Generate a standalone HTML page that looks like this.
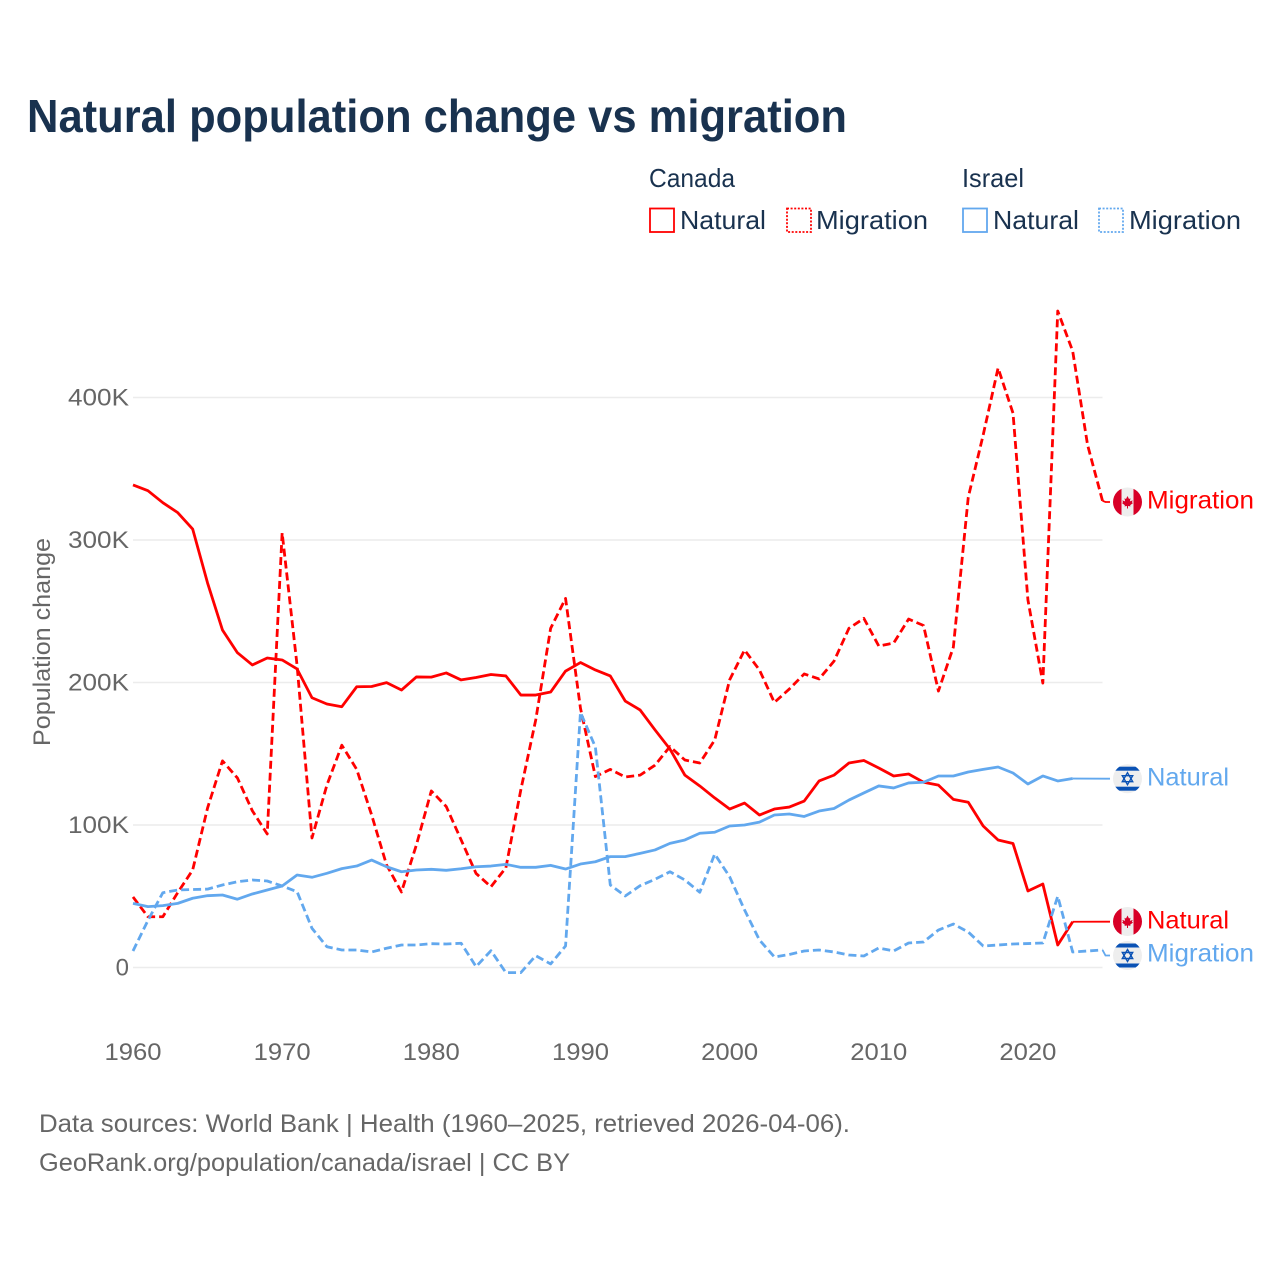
<!DOCTYPE html>
<html lang="en">
<head>
<meta charset="utf-8">
<title>Natural population change vs migration</title>
<style>
html,body{margin:0;padding:0;background:#fff;}
svg{display:block;}
text{font-family:"Liberation Sans",sans-serif;}
</style>
</head>
<body>
<svg id="chart" xmlns="http://www.w3.org/2000/svg" width="1280" height="1280" viewBox="0 0 1280 1280">
  <defs>
    <clipPath id="flag-clip-a"><circle cx="0" cy="0" r="14.5"/></clipPath>
    <symbol id="flag-ca" viewBox="-15 -15 30 30" overflow="visible">
      <g clip-path="url(#flag-clip-a)">
        <rect x="-15" y="-15" width="30" height="30" fill="#eeeeee"/>
        <rect x="-15" y="-15" width="9" height="30" fill="#d80027"/>
        <rect x="6" y="-15" width="9" height="30" fill="#d80027"/>
        <polygon points="0,-6 1.5,-3 3,-3.8 2.4,-0.6 5.2,-1.6 4.4,0.4 5.6,1 2.6,3.2 3,4.4 0.5,4 0.5,6.5 -0.5,6.5 -0.5,4 -3,4.4 -2.6,3.2 -5.6,1 -4.4,0.4 -5.2,-1.6 -2.4,-0.6 -3,-3.8 -1.5,-3" fill="#d80027"/>
      </g>
    </symbol>
    <symbol id="flag-il" viewBox="-15 -15 30 30" overflow="visible">
      <g clip-path="url(#flag-clip-a)">
        <rect x="-15" y="-15" width="30" height="30" fill="#eeeeee"/>
        <rect x="-15" y="-12" width="30" height="4" fill="#0a52b5"/>
        <rect x="-15" y="8" width="30" height="4" fill="#0a52b5"/>
        <polygon points="0,-6 5.2,3 -5.2,3" fill="none" stroke="#0a52b5" stroke-width="1.4"/>
        <polygon points="0,6 5.2,-3 -5.2,-3" fill="none" stroke="#0a52b5" stroke-width="1.4"/>
      </g>
    </symbol>
  </defs>

  <text x="27" y="132" font-size="46" font-weight="700" fill="#19324f" textLength="820" lengthAdjust="spacingAndGlyphs">Natural population change vs migration</text>

  <g font-size="26" fill="#19324f">
    <text x="649" y="187" textLength="86" lengthAdjust="spacingAndGlyphs">Canada</text>
    <text x="962" y="187" textLength="62" lengthAdjust="spacingAndGlyphs">Israel</text>

    <g>
      <rect x="650" y="208.5" width="24" height="23.5" fill="none" stroke="#ff0000" stroke-width="1.8"/>
      <text x="680" y="229" textLength="86" lengthAdjust="spacingAndGlyphs">Natural</text>
    </g>
    <g>
      <rect x="787" y="208.5" width="24" height="23.5" fill="none" stroke="#ff0000" stroke-width="1.8" stroke-dasharray="2 1.6"/>
      <text x="816" y="229" textLength="112" lengthAdjust="spacingAndGlyphs">Migration</text>
    </g>
    <g>
      <rect x="963" y="208.5" width="24" height="23.5" fill="none" stroke="#62a8ee" stroke-width="1.8"/>
      <text x="993" y="229" textLength="86" lengthAdjust="spacingAndGlyphs">Natural</text>
    </g>
    <g>
      <rect x="1099" y="208.5" width="24" height="23.5" fill="none" stroke="#62a8ee" stroke-width="1.8" stroke-dasharray="2 1.6"/>
      <text x="1129" y="229" textLength="112" lengthAdjust="spacingAndGlyphs">Migration</text>
    </g>
  </g>

  <text transform="translate(50,642) rotate(-90)" text-anchor="middle" font-size="24" fill="#666666" textLength="208" lengthAdjust="spacingAndGlyphs">Population change</text>

  <g id="grid"></g>
  <g id="y-labels"></g>
  <g id="x-labels"></g>
  <g id="series"></g>

  <g font-size="25">
    <use href="#flag-ca" x="1112.5" y="487" width="30" height="30"/>
    <text x="1147" y="508.5" fill="#ff0000" textLength="107" lengthAdjust="spacingAndGlyphs">Migration</text>
    <use href="#flag-il" x="1112.5" y="763.7" width="30" height="30"/>
    <text x="1147" y="785.5" fill="#62a8ee" textLength="82" lengthAdjust="spacingAndGlyphs">Natural</text>
    <use href="#flag-ca" x="1112.5" y="906.5" width="30" height="30"/>
    <text x="1147" y="928.5" fill="#ff0000" textLength="82" lengthAdjust="spacingAndGlyphs">Natural</text>
    <use href="#flag-il" x="1112.5" y="940.5" width="30" height="30"/>
    <text x="1147" y="961.5" fill="#62a8ee" textLength="107" lengthAdjust="spacingAndGlyphs">Migration</text>
  </g>

  <g font-size="25" fill="#666666">
    <text x="39" y="1132" textLength="811" lengthAdjust="spacingAndGlyphs">Data sources: World Bank | Health (1960–2025, retrieved 2026-04-06).</text>
    <text x="39" y="1171" textLength="531" lengthAdjust="spacingAndGlyphs">GeoRank.org/population/canada/israel | CC BY</text>
  </g>
</svg>

<script>
const years = [1960,1961,1962,1963,1964,1965,1966,1967,1968,1969,1970,1971,1972,1973,1974,1975,1976,1977,1978,1979,1980,1981,1982,1983,1984,1985,1986,1987,1988,1989,1990,1991,1992,1993,1994,1995,1996,1997,1998,1999,2000,2001,2002,2003,2004,2005,2006,2007,2008,2009,2010,2011,2012,2013,2014,2015,2016,2017,2018,2019,2020,2021,2022,2023,2024,2025];
const xTicks = [1960,1970,1980,1990,2000,2010,2020];
const yTicks = [0,100,200,300,400];
const yTickLabels = ["0","100K","200K","300K","400K"];

const canadaNatural = [338.6,334.6,326.2,319.2,307.7,269.8,236.8,220.9,212.3,217.2,215.8,209.5,189.3,184.9,183,197,197.2,199.9,194.7,203.9,203.8,206.7,201.8,203.5,205.6,204.6,191.2,191.2,193.3,208,214,208.8,204.6,187,180.7,166.7,153.3,135,127.4,119,111.2,115.4,107,111.2,112.6,116.8,130.9,135,143.5,145.3,140,134.4,135.8,130,128,118,116,99.3,89.5,87,53.7,58.6,15.8,32.1];
const canadaMigration = [49.5,35.6,35.6,52.6,68.4,112,145,133,110,93.7,305,212,90.9,128,156,139,107,72,53,86,123.9,113,89.5,66,56.7,70,124.6,173.7,238,259,182,134,139,133.7,135,142,155,145.6,143.5,159.6,201.8,222.8,208.8,186,195.4,206,202.5,215,238,245,225.6,227.7,244.5,240,194,224.8,330,373.7,420.7,389,258,199.6,460.7,432.6,366.7,327.5];
const israelNatural = [45,42.7,43.4,45,48.6,50.4,50.9,47.9,51.6,54.4,57.2,64.9,63.3,66.1,69.4,71.2,75.4,70.7,67.2,68.4,68.9,68.2,69.3,70.7,71.2,72.4,70.3,70.3,71.7,69.1,72.6,74.2,77.8,77.8,80.1,82.5,87.1,89.5,94.2,94.9,99.3,100,102,107,107.7,106,109.8,111.6,117.5,122.5,127.4,126,129.5,130,134.4,134.4,137.2,139,140.7,136.5,128.8,134.4,130.9,132.6];
const israelMigration = [11.6,33,52.5,54.4,54.7,55,57.9,60.2,61.4,60.7,57.2,53.2,27.5,14.6,12.3,12.3,10.9,13.5,15.8,15.8,16.7,16.5,17,0.6,11.8,-3.6,-3.6,8.3,2.5,15.1,179,154.7,57.9,50.2,57.4,61.9,67.2,61.4,52.8,79.6,63.7,40.4,19.3,7.4,9.1,11.6,12.3,10.9,8.8,8.1,13.7,11.6,17.2,17.9,26.3,30.5,24.9,15.1,15.8,16.5,16.8,17.2,50,10.9,11.6,12.3];

const NS = 'http://www.w3.org/2000/svg';
const RED = '#ff0000';
const BLUE = '#62a8ee';
function xScale(year){ return 133 + (year - 1960) * (1102.5 - 133) / 65; }
function yScale(v){ return 967.5 - v * 1.425; }

const grid = document.getElementById('grid');
const yLabels = document.getElementById('y-labels');
const xLabels = document.getElementById('x-labels');
const seriesLayer = document.getElementById('series');

yTicks.forEach(function(t, i){
  const line = document.createElementNS(NS, 'line');
  
  
  line.setAttribute('x1', 133);
  line.setAttribute('x2', 1102.5);
  line.setAttribute('y1', yScale(t));
  line.setAttribute('y2', yScale(t));
  line.setAttribute('stroke', '#ececec');
  line.setAttribute('stroke-width', '1.6');
  grid.appendChild(line);
  const label = document.createElementNS(NS, 'text');
  
  
  label.setAttribute('x', 129);
  label.setAttribute('y', yScale(t) + 8);
  label.setAttribute('text-anchor', 'end');
  label.setAttribute('font-size', '24');
  label.setAttribute('fill', '#666666');
  if (yTickLabels[i].length > 1) {
    label.setAttribute('textLength', '61');
    label.setAttribute('lengthAdjust', 'spacingAndGlyphs');
  }
  label.textContent = yTickLabels[i];
  yLabels.appendChild(label);
});

xTicks.forEach(function(t){
  const label = document.createElementNS(NS, 'text');
  
  
  label.setAttribute('x', xScale(t));
  label.setAttribute('y', 1060);
  label.setAttribute('text-anchor', 'middle');
  label.setAttribute('font-size', '24');
  label.setAttribute('fill', '#666666');
  label.setAttribute('textLength', '57');
  label.setAttribute('lengthAdjust', 'spacingAndGlyphs');
  label.textContent = String(t);
  xLabels.appendChild(label);
});

function drawSeries(values, color, dashed, labelY, name){
  const pts = values.map(function(v, i){ return xScale(years[i]).toFixed(2) + ',' + yScale(v).toFixed(2); });
  const path = document.createElementNS(NS, 'polyline');
  
  
  path.setAttribute('points', pts.join(' '));
  path.setAttribute('fill', 'none');
  path.setAttribute('stroke', color);
  path.setAttribute('stroke-width', '2.8');
  path.setAttribute('stroke-linejoin', 'round');
  if (dashed) { path.setAttribute('stroke-dasharray', '8 4'); }
  seriesLayer.appendChild(path);

  const lastX = xScale(years[values.length - 1]);
  const lastY = yScale(values[values.length - 1]);
  const connector = document.createElementNS(NS, 'polyline');
  
  
  connector.setAttribute('points', lastX + ',' + lastY + ' ' + (Math.max(lastX, 1102.5) + 3) + ',' + labelY + ' 1110,' + labelY);
  connector.setAttribute('fill', 'none');
  connector.setAttribute('stroke', color);
  connector.setAttribute('stroke-width', '1.8');
  seriesLayer.appendChild(connector);
}

drawSeries(canadaNatural, RED, false, 921.7, 'line-canada-natural');
drawSeries(canadaMigration, RED, true, 502, 'line-canada-migration');
drawSeries(israelNatural, BLUE, false, 778.7, 'line-israel-natural');
drawSeries(israelMigration, BLUE, true, 955.5, 'line-israel-migration');
</script>
</body>
</html>
